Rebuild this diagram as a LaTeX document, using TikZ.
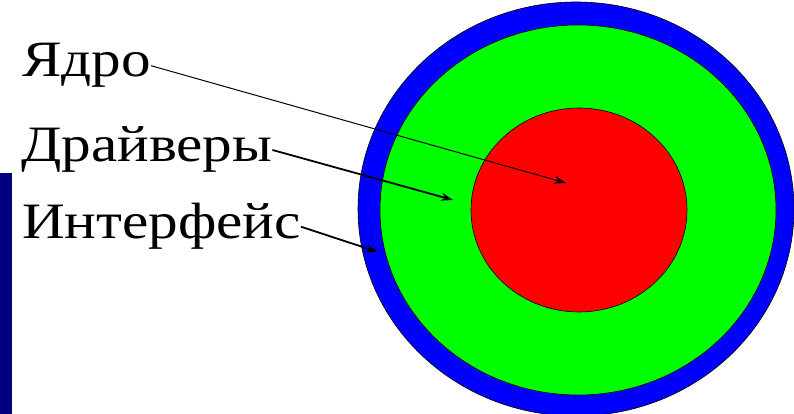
\documentclass[tikz,border=0pt]{standalone}
\usepackage{fontspec}
\setmainfont{Liberation Serif}
\newfontfamily\labfont{Liberation Serif}[FakeStretch=1.16]
\usetikzlibrary{arrows.meta,positioning,calc}
\definecolor{ringblue}{HTML}{0000FF}
\definecolor{ringgreen}{HTML}{00FF00}
\definecolor{corered}{HTML}{FF0000}
\definecolor{barnavy}{HTML}{000080}
\tikzset{
  layer/.style={draw=black, line width=0.6pt},
  lab/.style={inner sep=0pt, anchor=base west, font=\labfont\fontsize{51}{56}\selectfont},
  ptr/.style={-{Stealth[length=12pt, width=8pt, inset=4pt]}, black, line width=#1},
  ptr/.default=1pt,
}

\begin{document}
\begin{tikzpicture}[x=1pt, y=1pt]
  \useasboundingbox (0,0) rectangle (794,414);
  % side bar
  \fill[barnavy] (0,0) rectangle (12,241);

  % nested layers
  \filldraw[layer, fill=ringblue] (576,205) ellipse (218 and 207);
  \filldraw[layer, fill=ringgreen] (578,204) ellipse (198 and 185);
  \filldraw[layer, fill=corered] (579,204) ellipse (108 and 102);

  % arrow targets
  \coordinate (tcore) at (566,231);
  \coordinate (tdrv) at (453,214);
  \coordinate (tifc) at (378,162);

  % labels
  \node[lab] (yadro) at (22,337) {Ядро};
  \node[lab] (drv) at (21,252) {Драйверы};
  \node[lab] (ifc) at (22,175) {Интерфейс};

  \draw[ptr] (yadro.east) -- (tcore);
  \draw[ptr=1.8pt] (drv.east) -- (tdrv);
  \draw[ptr=1.8pt] (ifc.east) -- (tifc);
\end{tikzpicture}
\end{document}
